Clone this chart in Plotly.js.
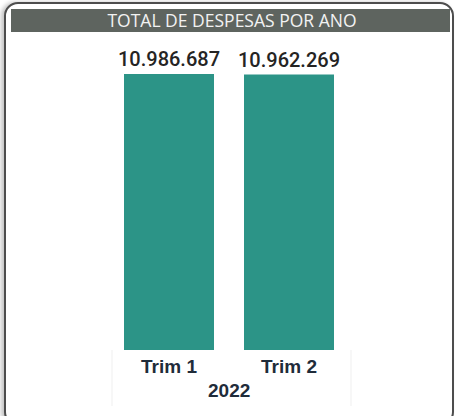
<!DOCTYPE html>
<html>
<head>
<meta charset="utf-8">
<script src="https://cdn.plot.ly/plotly-3.0.1.min.js"></script>
<style>
  html, body { margin: 0; padding: 0; background: #ffffff; width: 455px; height: 416px; overflow: hidden; }
  #frame { position: absolute; left: 4px; top: 2px; width: 446px; height: 420px; border: 2px solid #4d4d4d; border-radius: 14px; box-shadow: -3px 0 4px #c4c4c4; background: #ffffff; }
  #chart { position: absolute; left: 0; top: 0; width: 455px; height: 416px; }
</style>
</head>
<body>
<div id="frame"></div>
<div id="chart"></div>
<script>
const year = "2022";
const quarters = ["Trim 1", "Trim 2"];
const totals = [10986687, 10962269];
const chartTitle = "TOTAL DE DESPESAS POR ANO";

const trace = {
  type: "bar",
  x: quarters,
  y: totals,
  marker: { color: "#2c9487" },
  texttemplate: "%{y:,.0f}",
  textposition: "outside",
  constraintext: "none",
  cliponaxis: false,
  textfont: { family: "Roboto", size: 20, color: "#252423", weight: 500 },
  hoverinfo: "none"
};

const pxToPaperY = p => (350 - p) / 276;
const pxToPaperX = p => (p - 109) / 240;
const labelFont = { family: "Liberation Sans", size: 19, color: "#1f2c3a", weight: "bold" };

const layout = {
  width: 455,
  height: 416,
  margin: { l: 109, r: 106, t: 74, b: 66 },
  paper_bgcolor: "rgba(0,0,0,0)",
  plot_bgcolor: "rgba(0,0,0,0)",
  separators: ",.",
  bargap: 0.25,
  showlegend: false,
  title: {
    text: chartTitle,
    x: 232 / 455,
    xanchor: "center",
    y: 1 - 21 / 416,
    yanchor: "middle",
    font: { family: "Open Sans", size: 17.5, color: "#f2f2f2" }
  },
  xaxis: {
    type: "category",
    showgrid: false,
    zeroline: false,
    showline: false,
    ticks: "",
    ticklabelstandoff: 3,
    tickfont: labelFont
  },
  yaxis: {
    visible: false,
    range: [0, 10986687],
    showgrid: false,
    zeroline: false
  },
  annotations: [{
    text: year,
    xref: "paper", yref: "paper",
    x: 0.5, y: pxToPaperY(390),
    xanchor: "center", yanchor: "middle",
    showarrow: false,
    font: labelFont
  }],
  shapes: [{
    type: "rect",
    xref: "paper", yref: "paper",
    x0: pxToPaperX(11), x1: pxToPaperX(450),
    y0: pxToPaperY(32), y1: pxToPaperY(9),
    fillcolor: "#5e645f",
    line: { width: 0 },
    layer: "below"
  }, {
    type: "line",
    xref: "paper", yref: "paper",
    x0: pxToPaperX(112), x1: pxToPaperX(112),
    y0: pxToPaperY(350), y1: pxToPaperY(406),
    line: { color: "#efefef", width: 1 }
  }, {
    type: "line",
    xref: "paper", yref: "paper",
    x0: pxToPaperX(351), x1: pxToPaperX(351),
    y0: pxToPaperY(350), y1: pxToPaperY(406),
    line: { color: "#efefef", width: 1 }
  }]
};

Plotly.newPlot("chart", [trace], layout, { displayModeBar: false, staticPlot: true });
</script>
</body>
</html>
